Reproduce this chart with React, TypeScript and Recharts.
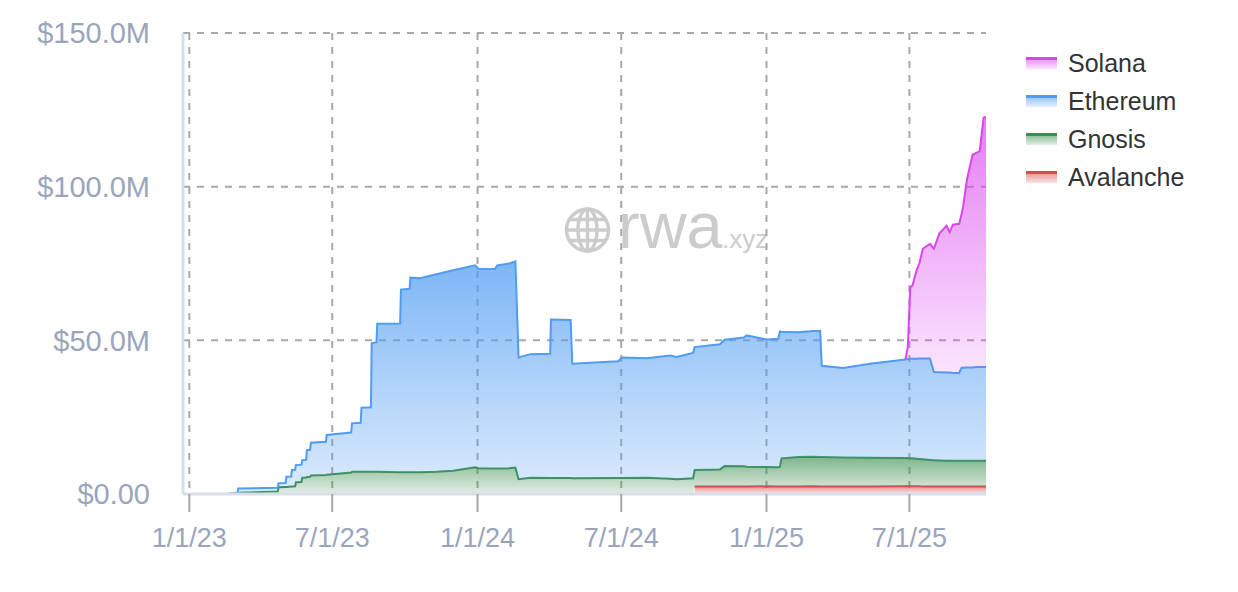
import React from "react";
import { AreaChart, Area, XAxis, YAxis, CartesianGrid } from "recharts";

// ---- data (values in $ millions) ----
const dates: string[] = [
  "2022-12-24", "2023-02-18", "2023-03-03", "2023-03-04", "2023-04-23", "2023-04-24", "2023-05-03", "2023-05-04", "2023-05-10", "2023-05-11",
  "2023-05-15", "2023-05-16", "2023-05-23", "2023-05-24", "2023-05-29", "2023-05-30", "2023-06-03", "2023-06-04", "2023-06-23", "2023-06-24",
  "2023-07-25", "2023-07-26", "2023-08-06", "2023-08-07", "2023-08-19", "2023-08-20", "2023-08-26", "2023-08-27", "2023-09-25", "2023-09-26",
  "2023-10-07", "2023-10-08", "2023-10-20", "2023-11-10", "2023-12-01", "2023-12-29", "2024-01-02", "2024-01-23", "2024-01-26", "2024-02-10",
  "2024-02-18", "2024-02-22", "2024-03-08", "2024-04-02", "2024-04-03", "2024-04-28", "2024-04-30", "2024-06-27", "2024-07-02", "2024-08-02",
  "2024-09-01", "2024-09-09", "2024-09-30", "2024-10-02", "2024-11-03", "2024-11-09", "2024-12-03", "2024-12-07", "2025-01-01", "2025-01-16",
  "2025-01-18", "2025-01-20", "2025-02-10", "2025-03-01", "2025-03-10", "2025-03-12", "2025-04-08", "2025-05-12", "2025-06-26", "2025-06-29",
  "2025-07-02", "2025-07-05", "2025-07-10", "2025-07-14", "2025-07-18", "2025-07-27", "2025-08-01", "2025-08-08", "2025-08-17", "2025-08-21",
  "2025-08-25", "2025-09-02", "2025-09-05", "2025-09-07", "2025-09-12", "2025-09-19", "2025-09-24", "2025-09-28", "2025-10-03", "2025-10-06",
];

const avalanche: (number | null)[] = [
  null, null, null, null, null, null, null, null, null, null,
  null, null, null, null, null, null, null, null, null, null,
  null, null, null, null, null, null, null, null, null, null,
  null, null, null, null, null, null, null, null, null, null,
  null, null, null, null, null, null, null, null, null, null,
  null, null, null, 2.4, 2.4, 2.4, 2.4, 2.4, 2.5, 2.4,
  2.4, 2.4, 2.4, 2.5, 2.4, 2.4, 2.4, 2.4, 2.5, 2.5,
  2.5, 2.5, 2.5, 2.5, 2.4, 2.4, 2.4, 2.4, 2.4, 2.4,
  2.4, 2.4, 2.4, 2.4, 2.4, 2.4, 2.4, 2.4, 2.4, 2.4,
];

const gnosis: number[] = [
  0, 0, 0.3, 0.4, 0.8, 2.2, 2.3, 2.3, 2.4, 2.4,
  2.5, 3.8, 3.9, 5.3, 5.4, 5.5, 5.6, 6.0, 6.2, 6.3,
  7.0, 7.2, 7.2, 7.2, 7.2, 7.2, 7.2, 7.2, 7.1, 7.1,
  7.1, 7.1, 7.1, 7.2, 7.6, 8.7, 8.4, 8.3, 8.3, 8.4,
  8.6, 4.8, 5.3, 5.2, 5.2, 5.2, 5.1, 5.2, 5.2, 5.3,
  5.0, 4.8, 5.1, 5.4, 5.6, 6.7, 6.6, 6.5, 6.3, 6.3,
  6.4, 9.2, 9.6, 9.6, 9.6, 9.6, 9.5, 9.4, 9.2, 9.2,
  9.1, 9.1, 9.0, 8.9, 8.9, 8.7, 8.6, 8.5, 8.4, 8.4,
  8.4, 8.4, 8.4, 8.4, 8.4, 8.4, 8.4, 8.4, 8.4, 8.4,
];

const ethereum: number[] = [
  0, 0, 0, 1.4, 1.2, 1.3, 1.3, 3.3, 3.3, 5.4,
  5.4, 5.6, 5.6, 5.7, 5.7, 8.8, 8.8, 10.7, 10.8, 12.9,
  13.0, 15.8, 16.0, 20.9, 21.0, 41.9, 42.1, 48.2, 48.4, 59.4,
  59.7, 63.3, 63.1, 64.3, 65.2, 65.7, 64.9, 64.9, 66.1, 66.6,
  67.1, 39.6, 40.2, 40.4, 51.6, 51.4, 37.3, 38.0, 39.2, 38.9,
  40.1, 39.8, 40.8, 40.0, 40.7, 41.1, 41.9, 42.7, 41.5, 41.8,
  44.1, 41.2, 40.6, 40.9, 41.0, 29.7, 29.1, 30.6, 32.1, 32.2,
  32.4, 32.4, 32.5, 32.7, 32.8, 33.0, 28.7, 28.7, 28.7, 28.7,
  28.6, 28.6, 30.3, 30.3, 30.4, 30.4, 30.5, 30.5, 30.5, 30.5,
];

const solana: (number | null)[] = [
  null, null, null, null, null, null, null, null, null, null,
  null, null, null, null, null, null, null, null, null, null,
  null, null, null, null, null, null, null, null, null, null,
  null, null, null, null, null, null, null, null, null, null,
  null, null, null, null, null, null, null, null, null, null,
  null, null, null, null, null, null, null, null, null, null,
  null, null, null, null, null, null, null, null, 0, 3.9,
  23.3, 23.9, 28.7, 31.3, 35.7, 37.3, 40.1, 45.2, 47.8, 45.7,
  48.2, 48.5, 49.9, 52.4, 61.3, 69.2, 69.8, 70.2, 81.2, 81.4,
];

const xTickDates = ["2023-01-01", "2023-07-01", "2024-01-01", "2024-07-01", "2025-01-01", "2025-07-01"];
const yTicks = [0, 50, 100, 150];
const xDomainDates = ["2022-12-24", "2025-10-06"];

const seriesInfo = [
  { key: "solana", name: "Solana", color: "#d946ef", top: 0.7, bottom: 0.14 },
  { key: "ethereum", name: "Ethereum", color: "#4f9cf2", top: 0.74, bottom: 0.2 },
  { key: "gnosis", name: "Gnosis", color: "#3d8f50", top: 0.66, bottom: 0.15 },
  { key: "avalanche", name: "Avalanche", color: "#dc4b4b", top: 0.6, bottom: 0.15 },
];

const toTs = (s: string) => {
  const [y, m, d] = s.split("-").map(Number);
  return Date.UTC(y, m - 1, d);
};

const data = dates.map((d, i) => ({
  t: toTs(d),
  avalanche: avalanche[i],
  gnosis: gnosis[i],
  ethereum: ethereum[i],
  solana: solana[i],
}));

const xTicks = xTickDates.map(toTs);
const xDomain = xDomainDates.map(toTs);

const fmtX = (v: number) => {
  const dt = new Date(v);
  return `${dt.getUTCMonth() + 1}/${dt.getUTCDate()}/${String(dt.getUTCFullYear()).slice(2)}`;
};
const fmtY = (v: number) => (v === 0 ? "$0.00" : `$${v.toFixed(1)}M`);

const FONT = "'Liberation Sans', Arial, Helvetica, sans-serif";
const AXIS_TEXT = "#9aa5bc";
const GRID = "#a8a8a8";

const W = 1222;
const H = 576;

function Watermark() {
  return (
    <svg width={W} height={H} style={{ position: "absolute", left: 0, top: 0, pointerEvents: "none" }}>
      <g stroke="#cccccc" strokeWidth={3.5} fill="none" transform="translate(579.5,222)">
        <circle r={21} />
        <ellipse rx={9.5} ry={21} />
        <line x1={0} y1={-21} x2={0} y2={21} />
        <line x1={-21} y1={0} x2={21} y2={0} />
        <line x1={-18} y1={-10.5} x2={18} y2={-10.5} />
        <line x1={-18} y1={10.5} x2={18} y2={10.5} />
      </g>
      <text x={610} y={240} fill="#cccccc" fontFamily={FONT} fontSize={65}>
        rwa
      </text>
      <text x={714} y={240} fill="#cccccc" fontFamily={FONT} fontSize={26}>
        .xyz
      </text>
    </svg>
  );
}

function hexA(hex: string, a: number) {
  const r = parseInt(hex.slice(1, 3), 16);
  const g = parseInt(hex.slice(3, 5), 16);
  const b = parseInt(hex.slice(5, 7), 16);
  return `rgba(${r},${g},${b},${a})`;
}

function LegendBox() {
  return (
    <div style={{ position: "absolute", left: 1018, top: 36, fontFamily: FONT }}>
      {seriesInfo.map((s) => (
        <div key={s.key} style={{ display: "flex", alignItems: "center", height: 38 }}>
          <div
            style={{
              width: 31,
              height: 9,
              borderTop: `3px solid ${s.color}`,
              background: `linear-gradient(${hexA(s.color, 0.55)}, ${hexA(s.color, 0.15)})`,
              marginRight: 11,
            }}
          />
          <span style={{ fontSize: 25, color: "#333333" }}>{s.name}</span>
        </div>
      ))}
    </div>
  );
}

export default function App() {
  const stackOrder = ["avalanche", "gnosis", "ethereum", "solana"];
  return (
    <div style={{ position: "relative", width: W, height: H }}>
      <Watermark />
      <AreaChart width={W} height={H} data={data} margin={{ top: 25, right: W - 978, bottom: 30, left: 0 }}>
        <defs>
          {seriesInfo.map((s) => (
            <linearGradient key={s.key} id={`grad-${s.key}`} x1="0" y1="0" x2="0" y2="1">
              <stop offset="0%" stopColor={s.color} stopOpacity={s.top} />
              <stop offset="100%" stopColor={s.color} stopOpacity={s.bottom} />
            </linearGradient>
          ))}
        </defs>
        <CartesianGrid
          stroke={GRID}
          strokeDasharray="7 7"
          strokeWidth={2}
          verticalValues={xTicks}
          horizontalValues={yTicks}
        />
        <XAxis
          type="number"
          dataKey="t"
          domain={xDomain}
          ticks={xTicks}
          interval={0}
          tickFormatter={fmtX}
          height={60}
          tickSize={18}
          tickMargin={16}
          tickLine={{ stroke: GRID, strokeWidth: 2 }}
          axisLine={{ stroke: "#d8deea", strokeWidth: 3 }}
          tick={{ fill: AXIS_TEXT, fontSize: 27, fontFamily: FONT }}
        />
        <YAxis
          width={175}
          domain={[0, 150]}
          ticks={yTicks}
          interval={0}
          tickFormatter={fmtY}
          tickLine={false}
          tickSize={0}
          tickMargin={33}
          axisLine={{ stroke: "#d8deea", strokeWidth: 3 }}
          tick={{ fill: AXIS_TEXT, fontSize: 29, fontFamily: FONT }}
        />
        {stackOrder.map((k) => {
          const s = seriesInfo.find((x) => x.key === k)!;
          return (
            <Area
              key={k}
              type="linear"
              dataKey={k}
              name={s.name}
              stackId="chains"
              stroke={s.color}
              strokeWidth={2}
              fill={`url(#grad-${k})`}
              fillOpacity={1}
              dot={false}
              activeDot={false}
              isAnimationActive={false}
            />
          );
        })}
      </AreaChart>
      <LegendBox />
    </div>
  );
}
